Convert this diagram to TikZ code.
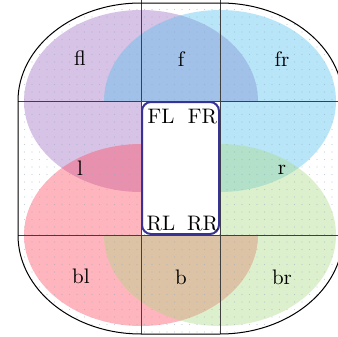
\documentclass[tikz,border=0pt]{standalone}
\definecolor{cfl}{RGB}{155,105,192}
\definecolor{cfr}{RGB}{80,192,238}
\definecolor{cbl}{RGB}{255,72,92}
\definecolor{cbr}{RGB}{172,218,130}
\definecolor{dotc}{RGB}{150,170,195}
\definecolor{rimc}{RGB}{55,50,150}
\newcommand{\myouter}{(18,101) arc[start angle=180, end angle=270, x radius=123, y radius=98] -- (220,3) arc[start angle=270, end angle=360, x radius=123, y radius=98] -- (343,235) arc[start angle=0, end angle=90, x radius=123, y radius=99] -- (141,334) arc[start angle=90, end angle=180, x radius=123, y radius=99] -- cycle}
\begin{document}
\begin{tikzpicture}[x=0.5pt,y=-0.5pt,
  gridline/.style={draw=black!75, line width=0.5pt},
  lab/.style={anchor=base, inner sep=0pt, font=\fontsize{10.5}{12}\selectfont},
  blob/.style={fill opacity=0.4}]
\useasboundingbox (0,0) rectangle (338,337);
\clip (0,0) rectangle (338,337);
\fill[white] (0,0) rectangle (338,337);
% coloured wheel zones
\begin{scope}
  \clip (0,0) rectangle (343,101) (0,0) rectangle (141,337);
  \fill[cfl, blob] (141,101) ellipse [x radius=117, y radius=91];
\end{scope}
\begin{scope}
  \clip (0,0) rectangle (343,101) (220,0) rectangle (343,337);
  \fill[cfr, blob] (220,101) ellipse [x radius=116, y radius=91];
\end{scope}
\begin{scope}
  \clip (0,235) rectangle (343,337) (0,0) rectangle (141,337);
  \fill[cbl, blob] (141,235) ellipse [x radius=117, y radius=91];
\end{scope}
\begin{scope}
  \clip (0,235) rectangle (343,337) (220,0) rectangle (343,337);
  \fill[cbr, blob] (220,235) ellipse [x radius=116, y radius=91];
\end{scope}
% dotted background
\begin{scope}
  \clip \myouter;
  \foreach \i in {0,...,45} {
    \foreach \j in {0,...,45} {
      \fill[dotc, opacity=0.55] (\i*7.5+2,\j*7.5+2) circle [radius=0.6];
    }
  }
\end{scope}
% grid
\draw[gridline] (18,101) -- (343,101);
\draw[gridline] (18,235) -- (343,235);
\draw[gridline] (141,0) -- (141,334);
\draw[gridline] (220,0) -- (220,334);
% outline
\draw[black, line width=0.5pt] \myouter;
% centre
\draw[rimc, fill=white, line width=1pt, rounded corners=4.5pt] (142,102) rectangle (219,234);
\node[lab] (FL) at (161,123) {FL};
\node[lab] (FR) at (202.5,123) {FR};
\node[lab] (RL) at (161,230) {RL};
\node[lab] (RR) at (202.5,230) {RR};
% zone labels
\node[lab] (fl) at (80,65) {fl};
\node[lab] (f) at (181,66) {f};
\node[lab] (fr) at (282,66) {fr};
\node[lab] (l) at (80,175) {l};
\node[lab] (r) at (282,174) {r};
\node[lab] (bl) at (81,283) {bl};
\node[lab] (b) at (181,284) {b};
\node[lab] (br) at (282,284) {br};
\end{tikzpicture}
\end{document}
